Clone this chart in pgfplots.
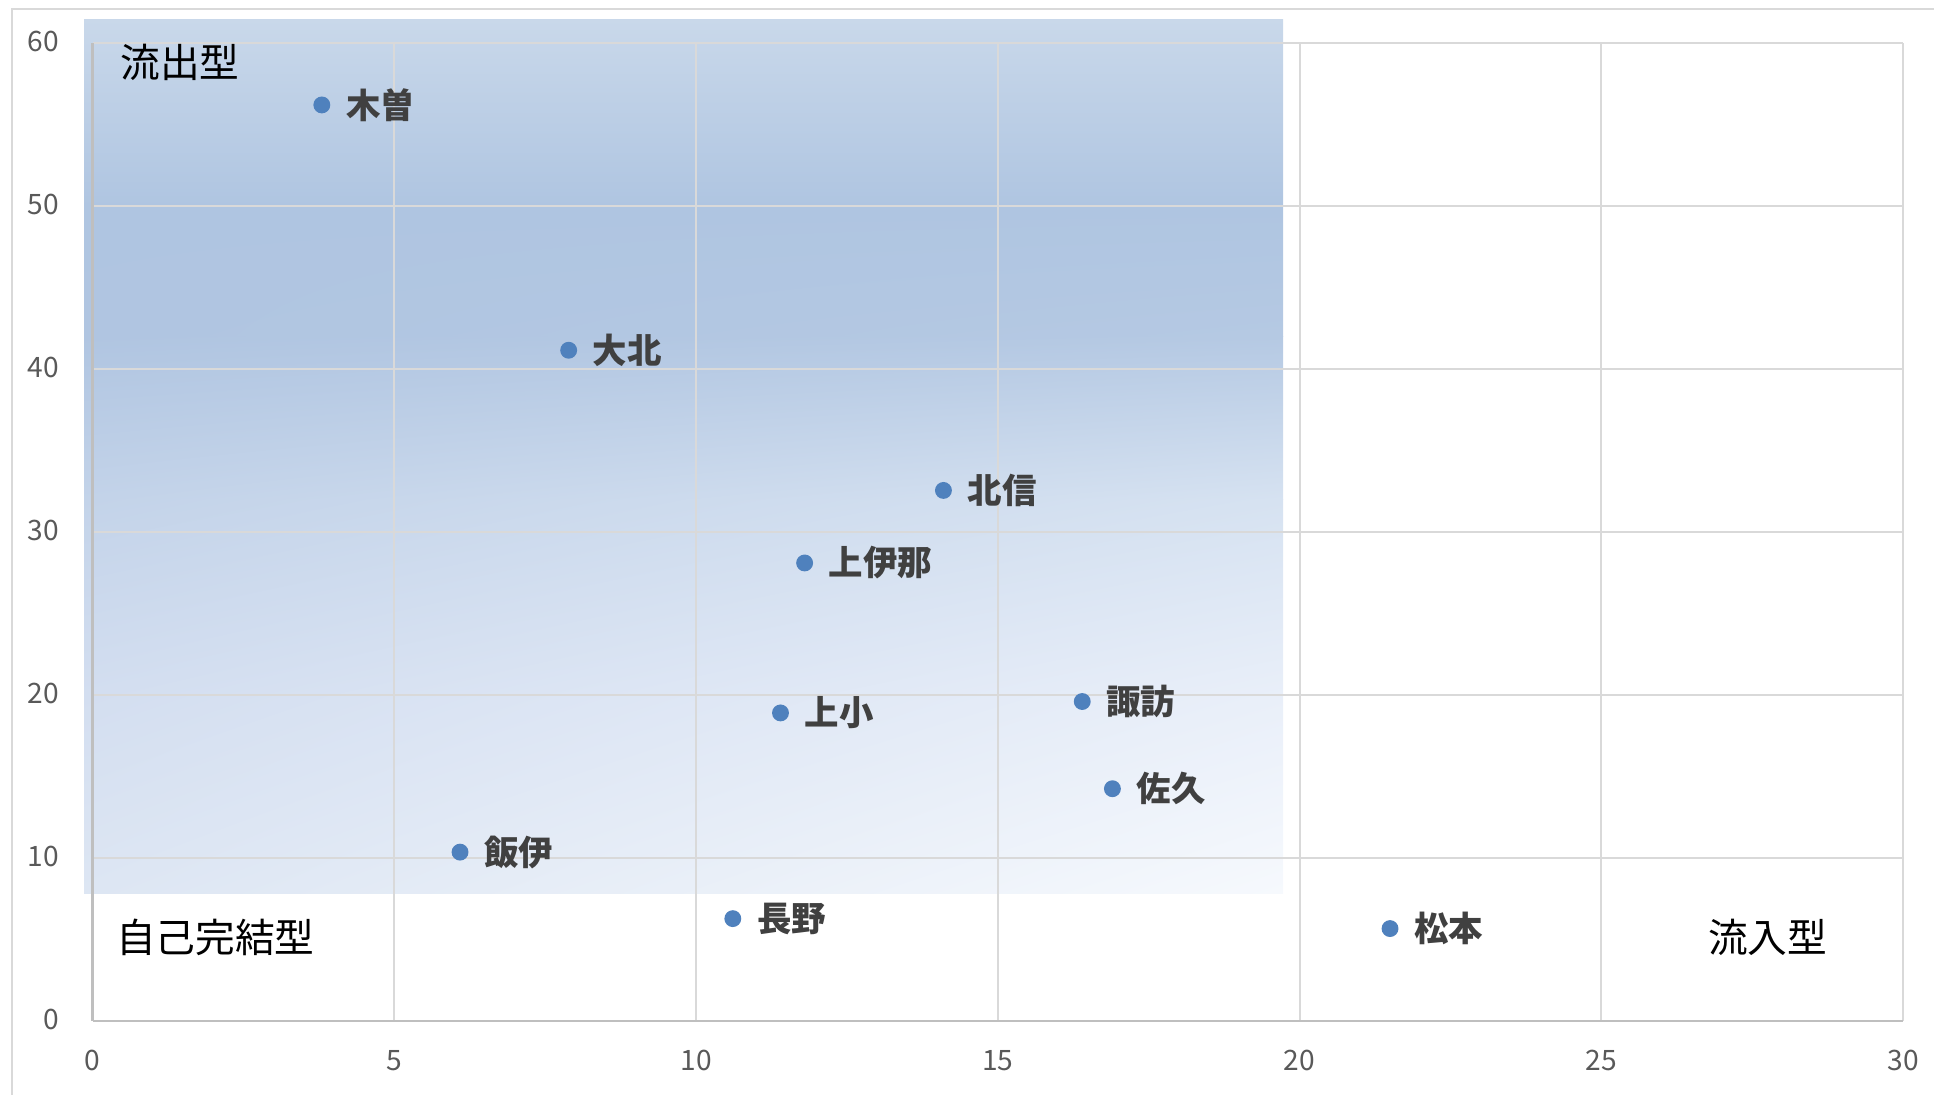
\documentclass[border=0pt]{standalone}
\usepackage{fontspec}
\setmainfont{Noto Sans CJK JP}
\usepackage{pgfplots}
\pgfplotsset{compat=1.18}
\usetikzlibrary{shadings}

\definecolor{gridc}{HTML}{D9D9D9}
\definecolor{axisc}{HTML}{BFBFBF}
\definecolor{tickc}{HTML}{595959}
\definecolor{labc}{HTML}{404040}
\definecolor{ptc}{HTML}{4F81BD}
% gradient stops (left / right)
\definecolor{gA}{HTML}{C9D8EA}
\definecolor{gB}{HTML}{AFC5E1}
\definecolor{gCl}{HTML}{B0C5E1}
\definecolor{gCr}{HTML}{B5C9E3}
\definecolor{gDl}{HTML}{C3D3E9}
\definecolor{gDr}{HTML}{D6E2F1}
\definecolor{gEl}{HTML}{D3DEF0}
\definecolor{gEr}{HTML}{E9EFF9}
\definecolor{gFl}{HTML}{DDE6F3}
\definecolor{gFr}{HTML}{F6F9FD}

\begin{document}
\begin{tikzpicture}
\draw[gridc, line width=0.57pt] (-0.805,-0.8) -- (-0.805,10.12) -- (18.5,10.12);
\begin{axis}[
    at={(0,0)}, anchor=south west,
    width=18.105cm, height=9.78cm, scale only axis,
    set layers, clip=false,
    xmin=0, xmax=30, ymin=0, ymax=60,
    xtick={0,5,...,30}, ytick={0,10,...,60},
    grid=major,
    major grid style={gridc, line width=0.57pt},
    axis lines*=left,
    axis line style={axisc, line width=0.6pt},
    major tick length=0pt,
    /pgf/number format/assume math mode=true,
    ticklabel style={font=\fontsize{8}{9.5}\selectfont, text=tickc},
    xticklabel style={yshift=-0.17cm},
    yticklabel style={xshift=-0.21cm, yshift=0.02cm},
]
\begin{pgfonlayer}{axis background}
  \shade[upper left=gA, upper right=gA, lower left=gB, lower right=gB]
    (axis cs:-0.14,49.98) rectangle (axis cs:19.73,61.47);
  \shade[upper left=gB, upper right=gB, lower left=gCl, lower right=gCr]
    (axis cs:-0.14,41.98) rectangle (axis cs:19.73,50);
  \shade[upper left=gCl, upper right=gCr, lower left=gDl, lower right=gDr]
    (axis cs:-0.14,31.98) rectangle (axis cs:19.73,42);
  \shade[upper left=gDl, upper right=gDr, lower left=gEl, lower right=gEr]
    (axis cs:-0.14,19.98) rectangle (axis cs:19.73,32);
  \shade[upper left=gEl, upper right=gEr, lower left=gFl, lower right=gFr]
    (axis cs:-0.14,7.85) rectangle (axis cs:19.73,20);
\end{pgfonlayer}

\addplot[only marks, mark=*, mark size=2.2pt, color=ptc,
    point meta=explicit symbolic,
    nodes near coords,
    nodes near coords style={anchor=west, inner sep=0pt, xshift=0.235cm,
        font=\fontsize{9.8}{11.5}\selectfont\bfseries, text=labc}]
  table[x=x, y=y, meta=label] {
x      y      label
3.80   56.20  木曽
7.89   41.15  大北
14.10  32.55  北信
11.80  28.10  上伊那
11.40  18.90  上小
16.40  19.60  諏訪
16.90  14.25  佐久
6.09   10.36  飯伊
10.61  6.28   長野
21.50  5.67   松本
};

\node[anchor=west, inner sep=0pt, font=\fontsize{11.3}{13}\selectfont]
  at (axis cs:0.45,58.8) {流出型};
\node[anchor=west, inner sep=0pt, font=\fontsize{11.3}{13}\selectfont]
  at (axis cs:0.38,5.15) {自己完結型};
\node[anchor=west, inner sep=0pt, font=\fontsize{11.3}{13}\selectfont]
  at (axis cs:26.76,5.15) {流入型};
\end{axis}
\pgfresetboundingbox
\useasboundingbox (-0.925,-0.73) rectangle (18.415,10.21);
\end{tikzpicture}
\end{document}
